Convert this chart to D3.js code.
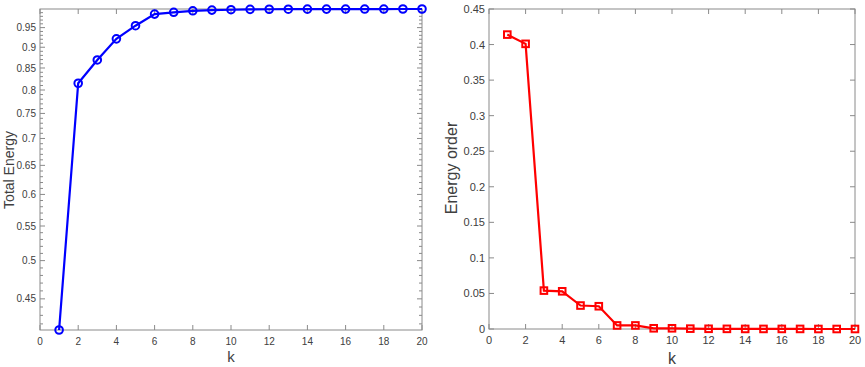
<!DOCTYPE html>
<html>
<head>
<meta charset="utf-8" />
<title>Energy</title>
<script src="https://cdn.jsdelivr.net/npm/d3@7"></script>
<style>
  body { margin: 0; background: #fff; }
  text { font-family: "Liberation Sans", Arial, sans-serif; }
</style>
</head>
<body>
<script>
    var k = [1,2,3,4,5,6,7,8,9,10,11,12,13,14,15,16,17,18,19,20];
    var totalEnergy = [0.413,0.815,0.869,0.921,0.955,0.986,0.991,0.995,0.997,0.998,0.999,0.9993,0.9995,0.9996,0.9997,0.9998,0.9999,0.9999,1.0,1.0];
    var energyOrder = [0.414,0.401,0.054,0.053,0.033,0.032,0.005,0.005,0.001,0.001,0.0005,0.0003,0.0002,0.0001,0.0001,0.0001,0.0001,0,0,0];
    var xTicks = [0,2,4,6,8,10,12,14,16,18,20];
    var leftTicks = [0.45,0.5,0.55,0.6,0.65,0.7,0.75,0.8,0.85,0.9,0.95];
    var rightTicks = [0,0.05,0.1,0.15,0.2,0.25,0.3,0.35,0.4,0.45];

    var svg = d3.select('body').append('svg').attr('width',865).attr('height',367);
    var axisColor = '#8a8a8a', textColor = '#404040';

    function frame(g, x, y, yTicks, yFmt, minor, fs){
        var x0 = x.range()[0], x1 = x.range()[1], y0 = y.range()[0], y1 = y.range()[1];
        g.append('rect').attr('x',x0).attr('y',y1).attr('width',x1-x0).attr('height',y0-y1)
            .attr('fill','none').attr('stroke',axisColor).attr('stroke-width',1);
        xTicks.forEach(function(t){
            var px = x(t);
            g.append('line').attr('x1',px).attr('x2',px).attr('y1',y0).attr('y2',y0-5).attr('stroke',axisColor);
            g.append('line').attr('x1',px).attr('x2',px).attr('y1',y1).attr('y2',y1+5).attr('stroke',axisColor);
            g.append('text').attr('x',px).attr('y',y0+15).attr('text-anchor','middle')
                .attr('font-size',fs+'px').attr('fill',textColor).text(t);
        });
        yTicks.forEach(function(t){
            var py = y(t);
            g.append('line').attr('x1',x0).attr('x2',x0+5).attr('y1',py).attr('y2',py).attr('stroke',axisColor);
            g.append('line').attr('x1',x1).attr('x2',x1-5).attr('y1',py).attr('y2',py).attr('stroke',axisColor);
            g.append('text').attr('x',x0-4).attr('y',py+fs*0.36).attr('text-anchor','end')
                .attr('font-size',fs+'px').attr('fill',textColor).text(yFmt(t));
        });
        (minor || []).forEach(function(t){
            var py = y(t);
            g.append('line').attr('x1',x0).attr('x2',x0+3).attr('y1',py).attr('y2',py).attr('stroke',axisColor);
            g.append('line').attr('x1',x1).attr('x2',x1-3).attr('y1',py).attr('y2',py).attr('stroke',axisColor);
        });
    }

    // left: cumulative energy on log y axis
    var xL = d3.scaleLinear().domain([0,20]).range([40,422]);
    var yL = d3.scaleLog().domain([totalEnergy[0], 1]).range([330,9]);
    var gL = svg.append('g');
    var minorL = d3.range(42,100).map(function(v){ return v/100; }).filter(function(v){ return Math.round(v*100)%5 != 0; });
    frame(gL, xL, yL, leftTicks, function(t){ return String(+t.toFixed(2)); }, minorL, 10);
    var lineL = d3.line().x(function(d,i){ return xL(k[i]); }).y(function(d){ return yL(d); });
    gL.append('path').attr('d',lineL(totalEnergy)).attr('fill','none').attr('stroke','#0000ff').attr('stroke-width',2.2);
    gL.selectAll('circle').data(totalEnergy).enter().append('circle')
        .attr('cx',function(d,i){ return xL(k[i]); }).attr('cy',function(d){ return yL(d); })
        .attr('r',3.8).attr('fill','none').attr('stroke','#0000ff').attr('stroke-width',2);
    gL.append('text').attr('x',231).attr('y',362).attr('text-anchor','middle').attr('font-size','15px').attr('fill',textColor).text('k');
    gL.append('text').attr('transform','translate(14,170) rotate(-90)').attr('text-anchor','middle')
        .attr('font-size','14px').attr('fill',textColor).text('Total Energy');

    // right: per-order energy
    var xR = d3.scaleLinear().domain([0,20]).range([489,855]);
    var yR = d3.scaleLinear().domain([0,0.45]).range([329,9]);
    var gR = svg.append('g');
    frame(gR, xR, yR, rightTicks, function(t){ return String(+t.toFixed(2)); }, null, 11);
    var lineR = d3.line().x(function(d,i){ return xR(k[i]); }).y(function(d){ return yR(d); });
    gR.append('path').attr('d',lineR(energyOrder)).attr('fill','none').attr('stroke','#ff0000').attr('stroke-width',2.2);
    gR.selectAll('rect.m').data(energyOrder).enter().append('rect').attr('class','m')
        .attr('x',function(d,i){ return xR(k[i])-3.3; }).attr('y',function(d){ return yR(d)-3.3; })
        .attr('width',6.6).attr('height',6.6).attr('fill','none').attr('stroke','#ff0000').attr('stroke-width',2);
    gR.append('text').attr('x',672).attr('y',364).attr('text-anchor','middle').attr('font-size','16px').attr('fill',textColor).text('k');
    gR.append('text').attr('transform','translate(457,168) rotate(-90)').attr('text-anchor','middle')
        .attr('font-size','16px').attr('fill',textColor).text('Energy order');
</script>
</body>
</html>
